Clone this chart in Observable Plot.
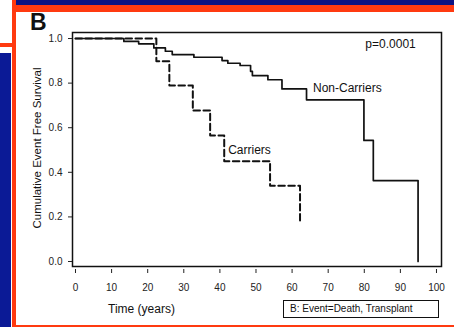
<!DOCTYPE html>
<html>
<head>
<meta charset="utf-8">
<script src="https://cdn.jsdelivr.net/npm/d3@7"></script>
<script src="https://cdn.jsdelivr.net/npm/@observablehq/plot@0.6"></script>
<style>
  html, body { margin: 0; padding: 0; background: #fff; }
  #wrap { position: relative; width: 454px; height: 327px; overflow: hidden; background: #fff; font-family: "Liberation Sans", Arial, sans-serif; }
  .deco { position: absolute; }
  #chart { position: absolute; left: 0; top: 0; }
  .txt { position: absolute; color: #111; white-space: nowrap; font-family: "Liberation Sans", Arial, sans-serif; }
</style>
</head>
<body>
<div id="wrap">
  <div class="deco" style="left:13px;top:0;width:441px;height:5px;background:#0b1383;"></div>
  <div class="deco" style="left:12px;top:5px;width:442px;height:7px;background:#ff3a10;"></div>
  <div class="deco" style="left:12px;top:0;width:4px;height:327px;background:#ff3a10;"></div>
  <div class="deco" style="left:0;top:43px;width:12px;height:4px;background:#ff3a10;"></div>
  <div class="deco" style="left:0;top:53px;width:11px;height:274px;background:#0b1a96;"></div>
  <div class="deco" style="left:12px;top:325px;width:442px;height:2px;background:#ff3a10;"></div>
  <div id="chart"></div>
  <div class="txt" style="left:30px;top:9px;font-size:23px;font-weight:bold;">B</div>
  <div class="txt" style="left:37px;top:148px;font-size:11.5px;transform:translate(-50%,-50%) rotate(-90deg);">Cumulative Event Free Survival</div>
  <div class="txt" style="left:108px;top:302px;font-size:12px;">Time (years)</div>
  <div class="txt" style="left:283px;top:300px;border:1px solid #111;font-size:10px;line-height:16px;padding-left:6px;box-sizing:border-box;width:156px;height:18px;">B: Event=Death, Transplant</div>
</div>
<script>
// Kaplan-Meier step data
const nonCarrierTime = [0, 13.4, 17.5, 21.7, 24.9, 26.8, 32.8, 40.6, 42.2, 45.6, 48.5, 49.0, 53.3, 57.2, 64.0, 79.9, 82.5, 94.9];
const nonCarrierSurv = [1.0, 0.987, 0.976, 0.958, 0.943, 0.928, 0.916, 0.901, 0.889, 0.879, 0.853, 0.834, 0.815, 0.774, 0.725, 0.543, 0.363, 0.0];
const carrierTime = [0, 22.4, 26.0, 32.5, 37.3, 41.2, 53.9, 62.2];
const carrierSurv = [1.0, 0.898, 0.789, 0.677, 0.565, 0.450, 0.340, 0.172];
const xTicks = [0, 10, 20, 30, 40, 50, 60, 70, 80, 90, 100];
const yTicks = [0.0, 0.2, 0.4, 0.6, 0.8, 1.0];
const labels = ["Non-Carriers", "Carriers", "p=0.0001"];
const labelTime = [65.8, 42.3, 80.3];
const labelSurv = [0.776, 0.498, 0.973];

const nonCarriers = nonCarrierTime.map((t, i) => ({t, s: nonCarrierSurv[i]}));
const carriers = carrierTime.map((t, i) => ({t, s: carrierSurv[i]}));
const annot = labels.map((text, i) => ({text, t: labelTime[i], s: labelSurv[i]}));

const chart = Plot.plot({
  width: 454,
  height: 327,
  marginLeft: 72,
  marginRight: 13,
  marginTop: 32,
  marginBottom: 61,
  style: {fontFamily: "Liberation Sans, Arial, sans-serif", background: "transparent", color: "#222"},
  x: {domain: [-0.83, 101.39]},
  y: {domain: [-0.0224, 1.027]},
  marks: [
    Plot.frame({stroke: "#111", strokeWidth: 1.5}),
    Plot.axisY({ticks: yTicks, tickFormat: d3.format(".1f"), tickSize: 4, tickPadding: 6, fontSize: 10, label: null}),
    Plot.axisX({ticks: xTicks, tickFormat: d3.format("d"), tickSize: 4, tickPadding: 10, dy: 3, fontSize: 10, label: null}),
    Plot.line(nonCarriers, {x: "t", y: "s", curve: "step-after", stroke: "#111", strokeWidth: 1.7}),
    Plot.line(carriers, {x: "t", y: "s", curve: "step-after", stroke: "#111", strokeWidth: 2, strokeDasharray: "6.5,3.5"}),
    Plot.text(annot, {x: "t", y: "s", text: "text", textAnchor: "start", fontSize: 12, fill: "#111"})
  ]
});
document.getElementById("chart").appendChild(chart);
</script>
</body>
</html>
